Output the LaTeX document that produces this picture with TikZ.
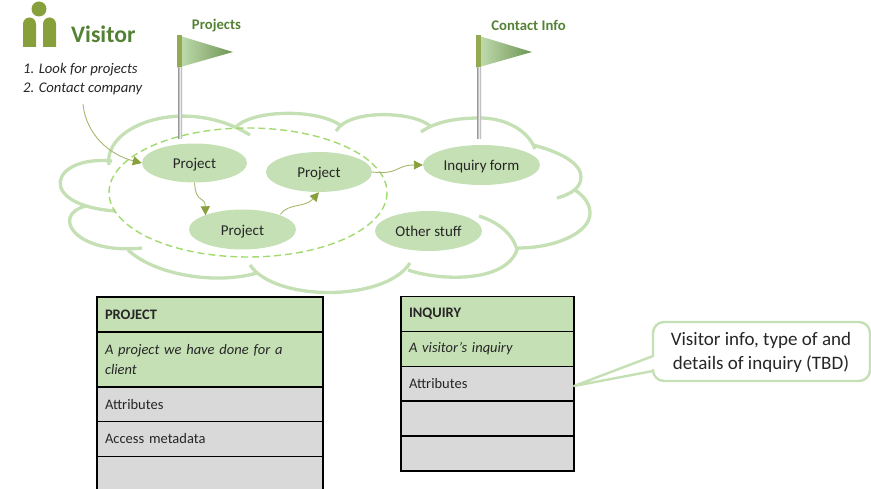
\documentclass[tikz,border=0pt]{standalone}
\usepackage{fontspec}
\setmainfont{Carlito}
\usetikzlibrary{arrows.meta,calc,shapes.geometric}
\definecolor{leaf}{HTML}{C5E0B4}
\definecolor{cloudline}{HTML}{C5E0B4}
\definecolor{dashgreen}{HTML}{A1DA6E}
\definecolor{headgreen}{HTML}{548235}
\definecolor{olive}{HTML}{87A03C}
\definecolor{oliveline}{HTML}{A5B86E}
\definecolor{rowgrey}{HTML}{D9D9D9}
\definecolor{ink}{HTML}{262626}
\tikzset{
  cloudarc/.style={draw=cloudline,line width=3.3pt,line cap=butt},
  oval/.style={ellipse,fill=leaf,inner sep=0pt,text=ink,text height=12pt,text depth=0pt,font=\fontsize{15}{17}\selectfont},
  flow/.style={draw=oliveline,line width=0.9pt,-{Triangle[length=9pt,width=9pt,fill=olive,color=olive]}},
  flaglabel/.style={font=\fontsize{14.7}{17}\selectfont\bfseries,text=headgreen},
  steptext/.style={anchor=west,inner sep=0pt,font=\fontsize{14.7}{17}\selectfont\itshape,text=ink},
  rowbase/.style={rectangle,draw=black,line width=1.8pt,anchor=north west,align=left,text=ink,inner xsep=8pt,inner ysep=0pt,font=\fontsize{14.5}{20}\selectfont,outer sep=0pt},
  widerow/.style={minimum width=226pt,text width=210pt},
  narrowrow/.style={minimum width=173pt,text width=157pt},
  greenrow/.style={rowbase,fill=leaf},
  greyrow/.style={rowbase,fill=rowgrey},
  boldrow/.style={font=\fontsize{14.5}{17}\selectfont\bfseries},
  italicrow/.style={font=\fontsize{14.5}{20}\selectfont\itshape},
}
\newcommand{\flagat}[1]{%
  \begin{scope}[shift={(#1,0)}]
    \shade[left color=gray!80,right color=gray!80,middle color=gray!15] (-2,68) rectangle (2,139);
    \shade[left color=leaf,right color=headgreen!85] (-3,35) -- (53,52) -- (-3,68) -- cycle;
    \fill[olive!90] (-3,35.5) rectangle (2,67);
  \end{scope}}
\begin{document}
\begin{tikzpicture}[x=1pt,y=-1pt]
\clip (0,0) rectangle (871,489);
\path[use as bounding box] (0,0) rectangle (871,489);
% visitor icon
\fill[olive] (39,9) circle (7.5);
\fill[olive] (23,47) -- (23,24) arc[start angle=180,end angle=360,radius=6.5] -- (36,47) -- cycle;
\fill[olive] (43,47) -- (43,24) arc[start angle=180,end angle=360,radius=6.5] -- (56,47) -- cycle;
\node[anchor=west,inner sep=0pt,font=\fontsize{23.7}{26}\selectfont\bfseries,text=headgreen] (visitor) at (71,34.5) {Visitor};
\node[steptext] (step1) at (23,70) {1. Look for projects};
\node[steptext] (step2) at (23,89) {2. Contact company};
% cloud
\draw[cloudarc] (109,165) .. controls (103,125) and (185,95) .. (250,135);
\draw[cloudarc] (112,161) .. controls (50,155) and (35,205) .. (115,211);
\draw[cloudarc] (86,206) .. controls (50,215) and (75,255) .. (142,248);
\draw[cloudarc] (128,250) .. controls (155,275) and (215,285) .. (257,273);
\draw[cloudarc] (250,265) .. controls (275,302) and (385,302) .. (410,263);
\draw[cloudarc] (408,270) .. controls (440,281) and (505,283) .. (517,250) .. controls (513,234) and (498,222) .. (479,216);
\draw[cloudarc] (518,248) .. controls (555,248) and (590,233) .. (590,213) .. controls (590,204) and (584,196) .. (575,190);
\draw[cloudarc] (557,198) .. controls (572,194) and (581,187) .. (581,177) .. controls (581,163) and (560,152) .. (533,145);
\draw[cloudarc] (535,149) .. controls (528,130) and (505,118) .. (480,118) .. controls (455,118) and (435,122) .. (421,132);
\draw[cloudarc] (430,126) .. controls (415,112) and (350,108) .. (336,131);
\draw[cloudarc] (235,128) .. controls (250,110) and (315,108) .. (340,125);
% dashed set
\draw[dashgreen,line width=1.4pt,dash pattern=on 7pt off 4pt] (248,192.5) ellipse [x radius=139,y radius=64.5];
% flags
\flagat{180}
\flagat{479}
\node[flaglabel] (lblprojects) at (216.5,25.5) {Projects};
\node[flaglabel] (lblcontact) at (528.5,25.5) {Contact Info};
% ovals
\node[oval,minimum width=105pt,minimum height=39pt] (p1) at (194.5,163) {Project};
\node[oval,minimum width=107pt,minimum height=40pt] (p2) at (242.5,229.5) {Project};
\node[oval,minimum width=106pt,minimum height=40pt] (p3) at (319,172) {Project};
\node[oval,minimum width=117pt,minimum height=40pt] (inq) at (481.5,165) {Inquiry form};
\node[oval,minimum width=107pt,minimum height=40pt] (other) at (428.5,231) {Other stuff};
% connectors
\coordinate (visitorstart) at (83,104);
\draw[flow] (visitorstart) .. controls (86,135) and (110,155) .. (p1.west);
\draw[flow] (p1.south) .. controls (196,205) and (205,195) .. ($(p2.north)+(-37,6)$);
\draw[flow] ($(p2.north)+(38,5)$) .. controls (288,203) and (305,208) .. (p3.south);
\draw[flow] (p3.east) .. controls (400,175) and (395,165) .. (inq.west);
% project table
\node[greenrow,widerow,minimum height=35pt,boldrow] (pa) at (97,297) {PROJECT};
\node[greenrow,widerow,minimum height=55pt,italicrow] (pb) at (97,332) {A project we have done for a\\client};
\node[greyrow,widerow,minimum height=34.5pt] (pc) at (97,387) {Attributes};
\node[greyrow,widerow,minimum height=35pt] (pd) at (97,421.5) {Access metadata};
\node[greyrow,widerow,minimum height=40pt] (pe) at (97,456.5) {};
% inquiry table
\node[greenrow,narrowrow,minimum height=35pt,boldrow] (ia) at (401,296.5) {INQUIRY};
\node[greenrow,narrowrow,minimum height=35pt,italicrow] (ib) at (401,331.5) {A visitor’s inquiry};
\node[greyrow,narrowrow,minimum height=34.5pt] (ic) at (401,366.5) {Attributes};
\node[greyrow,narrowrow,minimum height=35pt] (id) at (401,401) {};
\node[greyrow,narrowrow,minimum height=35pt] (ie) at (401,436) {};
% callout
\coordinate (tailtip) at (574,386);
\draw[cloudarc,fill=white,line join=round,line width=2.4pt]
  (tailtip) -- (653,356) [rounded corners=11pt] -- (653,322) -- (870,322) -- (870,381) -- (653,381) [sharp corners] -- (653,371) -- cycle;
\node[align=center,inner sep=0pt,text=ink,font=\fontsize{19}{24}\selectfont] (note) at (761,352.5) {Visitor info, type of and\\details of inquiry (TBD)};
\end{tikzpicture}
\end{document}
